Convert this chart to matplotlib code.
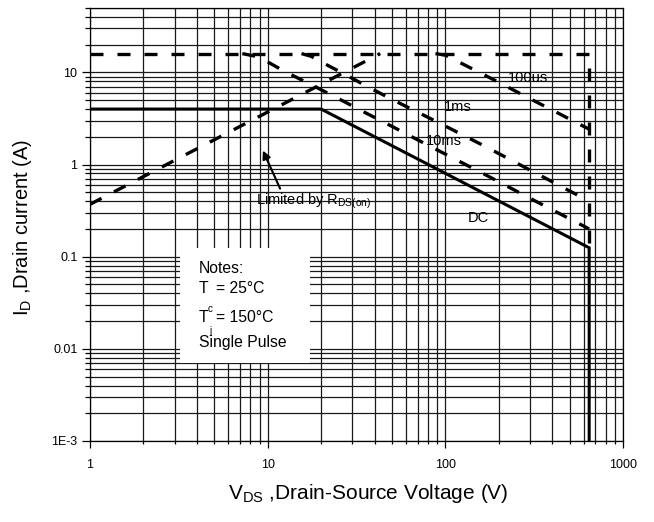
import matplotlib
matplotlib.use("Agg")
import matplotlib.pyplot as plt
from matplotlib.patches import Rectangle
from matplotlib.transforms import offset_copy

plt.rcParams["font.family"] = ["Liberation Sans", "DejaVu Sans"]

# Package / wire limit (flat dashed line) and breakdown edge
LIMIT_V = [1, 645, 645]
LIMIT_I = [16, 16, 0.125]

# RDS(on) limit
RDS_V = [1, 43]
RDS_I = [0.37, 16]

# pulse curves
US100_V = [88, 100, 110, 145, 200, 290, 400, 550, 645]
US100_I = [16, 15.4, 14.0, 10.7, 7.8, 5.35, 3.9, 2.83, 2.42]

MS1_V = [15.5, 17.5, 20, 27, 36, 50, 68, 95, 170, 300, 645]
MS1_I = [16, 15, 13, 9.6, 7.1, 5.1, 3.8, 2.75, 1.55, 0.87, 0.40]

MS10_V = [7.2, 8.5, 10, 12.5, 17, 25, 35, 50, 70, 110, 165, 300, 645]
MS10_I = [16, 15, 13, 10.2, 7.6, 5.2, 3.7, 2.6, 1.85, 1.18, 0.79, 0.43, 0.20]

DC_V = [1, 20, 645, 645]
DC_I = [4, 4, 0.125, 1e-3]

Y_TICKS = [1e-3, 1e-2, 1e-1, 1, 10]
Y_TICK_LABELS = ["1E-3", "0.01", "0.1", "1", "10"]
X_TICKS = [1, 10, 100, 1000]
X_TICK_LABELS = ["1", "10", "100", "1000"]

fig = plt.figure(figsize=(6.54, 5.22), dpi=100)
ax = fig.add_axes([0.1376, 0.1552, 0.815, 0.8295])

ax.set_xscale("log")
ax.set_yscale("log")
ax.set_xlim(1, 1000)
ax.set_ylim(1e-3, 50)

dash = (0, (3.9, 4.2))
ax.plot(LIMIT_V, LIMIT_I, color="black", lw=2.4, linestyle=dash, zorder=3)
ax.plot(RDS_V, RDS_I, color="black", lw=2.4, linestyle=dash, zorder=3)
ax.plot(US100_V, US100_I, color="black", lw=2.4, linestyle=dash, zorder=3)
ax.plot(MS1_V, MS1_I, color="black", lw=2.4, linestyle=dash, zorder=3)
ax.plot(MS10_V, MS10_I, color="black", lw=2.4, linestyle=dash, zorder=3)
ax.plot(DC_V, DC_I, color="black", lw=2.2, solid_joinstyle="miter", zorder=3)

ax.grid(True, which="both", color="#1a1a1a", linewidth=0.9)
ax.set_axisbelow(True)

ax.set_xticks(X_TICKS)
ax.set_xticklabels(X_TICK_LABELS)
ax.set_yticks(Y_TICKS)
ax.set_yticklabels(Y_TICK_LABELS)
ax.tick_params(axis="both", which="major", labelsize=9, color="black", width=0.9)
ax.tick_params(axis="x", which="major", length=5, pad=8)
ax.tick_params(axis="y", which="major", length=6, pad=3)
ax.tick_params(axis="x", which="minor", length=2, width=0.9)
ax.tick_params(axis="y", which="minor", length=3.5, width=0.9)
for s in ax.spines.values():
    s.set_linewidth(0.9)

ax.set_xlabel(r"V$_\mathregular{DS}$ ,Drain-Source Voltage (V)", fontsize=15)
ax.set_ylabel(r"I$_\mathregular{D}$ ,Drain current (A)", fontsize=14.5)
ax.xaxis.set_label_coords(0.522, -0.095)
ax.yaxis.set_label_coords(-0.105, 0.493)

# white notes box hiding the grid
ax.add_patch(Rectangle((0.169, 0.18), 0.244, 0.266, transform=ax.transAxes,
                       facecolor="white", edgecolor="none", zorder=2))
nx = 0.204
note_kw = dict(fontsize=11.3, zorder=4, va="baseline")
ax.text(nx, 0.388, "Notes:", transform=ax.transAxes, **note_kw)
ax.text(nx, 0.342, "T", transform=ax.transAxes, **note_kw)
ax.text(nx, 0.342, "c", fontsize=7, zorder=4, va="baseline",
        transform=offset_copy(ax.transAxes, fig=fig, x=6.5, y=-13.5, units="points"))
ax.text(nx, 0.342, "= 25°C", transform=offset_copy(ax.transAxes, fig=fig, x=12.5, y=0,
                                                     units="points"), **note_kw)
ax.text(nx, 0.275, "T", transform=ax.transAxes, **note_kw)
ax.text(nx, 0.275, "j", fontsize=7, zorder=4, va="baseline",
        transform=offset_copy(ax.transAxes, fig=fig, x=7.5, y=-8.5, units="points"))
ax.text(nx, 0.275, "= 150°C", transform=offset_copy(ax.transAxes, fig=fig, x=12.5, y=0,
                                                      units="points"), **note_kw)
ax.text(nx, 0.217, "Single Pulse", transform=ax.transAxes, **note_kw)

ax.text(224, 8.8, "100us", fontsize=10.5, va="center", zorder=4)
ax.text(98, 4.17, "1ms", fontsize=10.5, va="center", zorder=4)
ax.text(78, 1.78, "10ms", fontsize=10.5, va="center", zorder=4)
ax.text(134, 0.265, "DC", fontsize=10.5, va="center", zorder=4)
ax.annotate(r"Limited by R$_\mathregular{DS(on)}$", xy=(9.4, 1.42), xytext=(8.6, 0.40),
            fontsize=10.5, va="center", zorder=4,
            arrowprops=dict(arrowstyle="-|>", color="black", lw=1.5,
                            shrinkA=0, shrinkB=0, mutation_scale=12,
                            relpos=(0.22, 1.0)))

fig.savefig("out.png", dpi=100)
